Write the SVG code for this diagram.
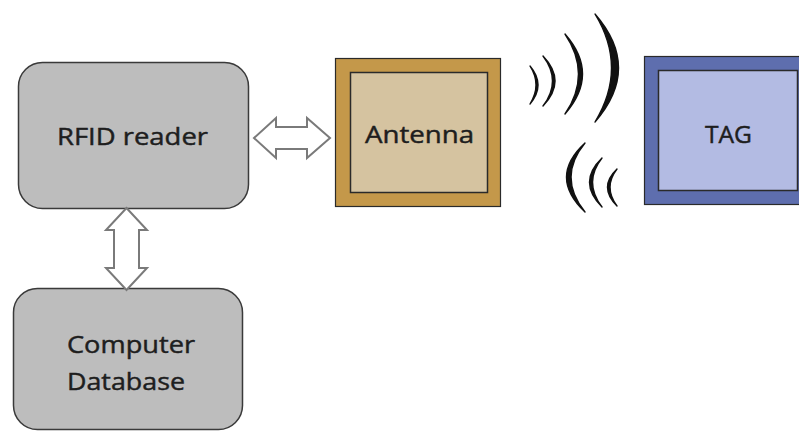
<svg xmlns="http://www.w3.org/2000/svg" width="799" height="432" viewBox="0 0 799 432">
<style>
.box{fill:#bdbdbd;stroke:#3a3a3a;stroke-width:1.5}
.lbl{font-family:"Open Sans","DejaVu Sans",sans-serif;font-size:24px;fill:#1e1e1e;stroke:#1e1e1e;stroke-width:0.45}
.arr{fill:#fff;stroke:#7a7a7a;stroke-width:2;stroke-linejoin:miter}
.wave{fill:#111;stroke:#111;stroke-width:1.4;stroke-linejoin:round}
</style>
<rect width="799" height="432" fill="#fff"/>
<g id="rfid-reader">
<rect class="box" x="18.5" y="62.5" width="230" height="146" rx="24"/>
<text class="lbl" x="57" y="145" textLength="151" lengthAdjust="spacingAndGlyphs">RFID reader</text>
</g>
<g id="computer-database">
<rect class="box" x="13.5" y="288.5" width="229" height="141" rx="24"/>
<text class="lbl" x="67" y="353" textLength="128" lengthAdjust="spacingAndGlyphs">Computer</text>
<text class="lbl" x="67" y="390" textLength="118" lengthAdjust="spacingAndGlyphs">Database</text>
</g>
<g id="antenna">
<rect x="335.5" y="58.5" width="165" height="148" fill="#c4984a" stroke="#2a2a2a" stroke-width="1.2"/>
<rect x="350.5" y="72.5" width="137" height="120" fill="#d5c3a0" stroke="#2a2a2a" stroke-width="1.5"/>
<text class="lbl" x="365" y="143" textLength="109" lengthAdjust="spacingAndGlyphs">Antenna</text>
</g>
<g id="tag">
<rect x="644.5" y="56.5" width="160" height="148" fill="#5e6eae" stroke="#2a2a2a" stroke-width="1.2"/>
<rect x="658.5" y="70.5" width="139" height="120" fill="#b3bbe3" stroke="#2a2a2a" stroke-width="1.5"/>
<text class="lbl" x="705" y="143" textLength="47" lengthAdjust="spacingAndGlyphs">TAG</text>
</g>
<g id="waves">
<path class="wave" d="M530,66 Q546,85 530,104 Q542,85 530,66Z"/>
<path class="wave" d="M543,56 Q567,81 543,106 Q562,81 543,56Z"/>
<path class="wave" d="M565,34 Q600,74 565,114 Q592,74 565,34Z"/>
<path class="wave" d="M595,14 Q642,68 595,122 Q628,68 595,14Z"/>
<path class="wave" d="M585,143 Q548,177 585,212 Q557,177 585,143Z"/>
<path class="wave" d="M602,158 Q577,182 602,207 Q583,182 602,158Z"/>
<path class="wave" d="M617,169 Q598,187 617,206 Q603,187 617,169Z"/>
</g>
<g id="connectors">
<path class="arr" d="M254,138 L276,118 L276,127 L307,127 L307,118 L330,138 L307,158 L307,149 L276,149 L276,158 Z"/>
<path class="arr" d="M126.5,208 L147,230 L139,230 L139,268 L147,268 L126.5,290 L106,268 L114,268 L114,230 L106,230 Z"/>
</g>
</svg>
